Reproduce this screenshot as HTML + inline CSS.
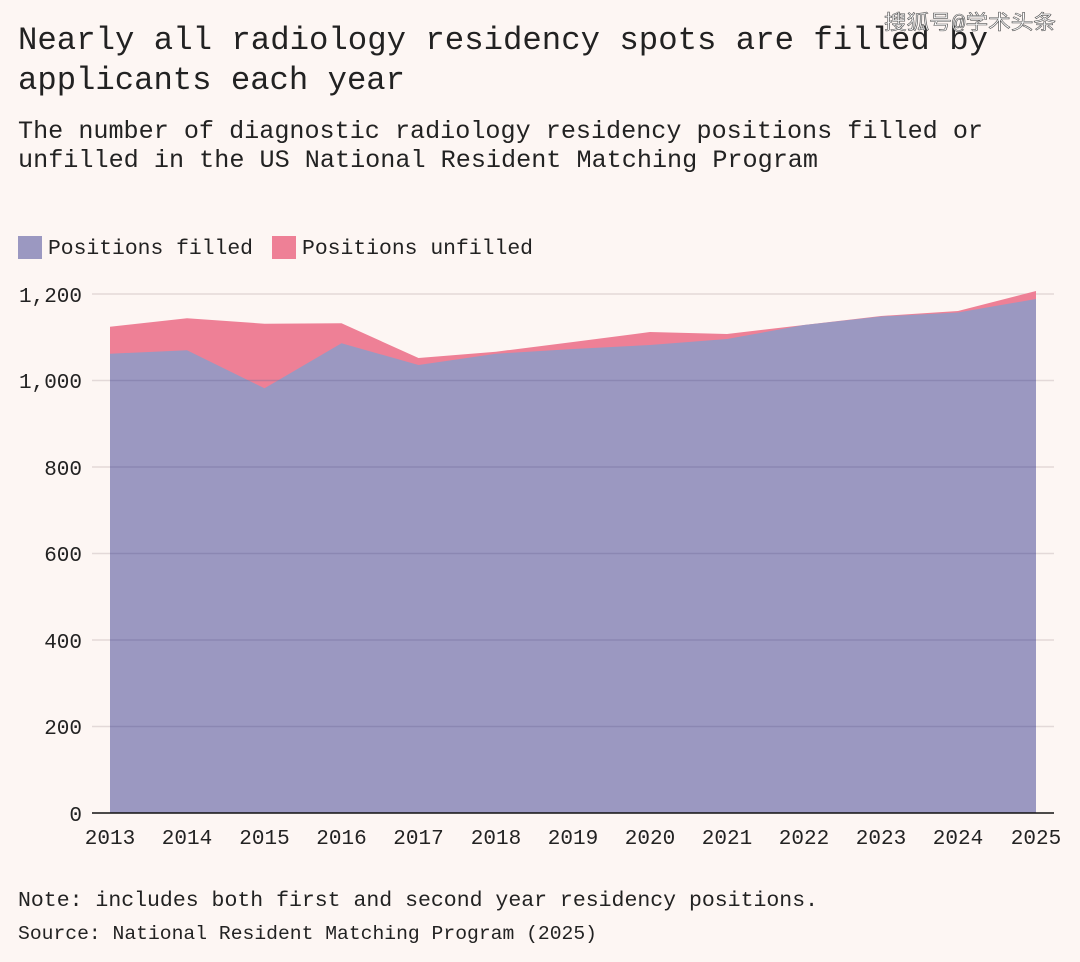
<!DOCTYPE html>
<html><head><meta charset="utf-8"><style>
body{margin:0;background:#fdf6f3;}
svg{display:block}
text{font-family:"Liberation Mono","Noto Sans CJK SC",monospace;fill:#222}
</style></head><body>
<svg width="1080" height="962" viewBox="0 0 1080 962">
<rect width="1080" height="962" fill="#fdf6f3"/>
<text x="18" y="49" font-size="32" textLength="970" lengthAdjust="spacingAndGlyphs">Nearly all radiology residency spots are filled by</text>
<text x="18" y="89" font-size="32" textLength="387" lengthAdjust="spacingAndGlyphs">applicants each year</text>
<text x="18" y="138" font-size="25" textLength="965" lengthAdjust="spacingAndGlyphs">The number of diagnostic radiology residency positions filled or</text>
<text x="18" y="167" font-size="25" textLength="800" lengthAdjust="spacingAndGlyphs">unfilled in the US National Resident Matching Program</text>
<text x="884" y="29" font-size="20" fill="#fff" style="fill:#fff;stroke:#555;stroke-width:0.6" textLength="172" lengthAdjust="spacingAndGlyphs">搜狐号@学术头条</text>
<rect x="18" y="236" width="24" height="23" fill="#9b98c1"/>
<text x="48" y="254" font-size="21" textLength="205" lengthAdjust="spacingAndGlyphs">Positions filled</text>
<rect x="272" y="236" width="24" height="23" fill="#ee8096"/>
<text x="302" y="254" font-size="21" textLength="231" lengthAdjust="spacingAndGlyphs">Positions unfilled</text>
<g stroke="#e3d9d8" stroke-width="1.5">
<line x1="92" x2="1054" y1="294" y2="294"/><line x1="92" x2="1054" y1="380.5" y2="380.5"/>
<line x1="92" x2="1054" y1="467" y2="467"/><line x1="92" x2="1054" y1="553.5" y2="553.5"/>
<line x1="92" x2="1054" y1="640" y2="640"/><line x1="92" x2="1054" y1="726.5" y2="726.5"/>
</g>
<polygon fill="#ee8096" points="110,813 110,326.7 187,318.3 264.5,323.7 341.5,323.3 418.5,358 496,351.7 573,342 650,332 727,334 804,325 881,316 958,311 1036,291 1036,813"/>
<polygon fill="#9b98c1" points="110,813 110,353.7 187,350.3 264.5,388.3 341.5,343.3 418.5,365 496,353.7 573,349 650,345 727,339 804,325 881,316.5 958,312.5 1036,299 1036,813"/>
<g stroke="#6e6a99" stroke-width="1.5" opacity="0.35">
<line x1="110" x2="1036" y1="380.5" y2="380.5"/><line x1="110" x2="1036" y1="467" y2="467"/>
<line x1="110" x2="1036" y1="553.5" y2="553.5"/><line x1="110" x2="1036" y1="640" y2="640"/>
<line x1="110" x2="1036" y1="726.5" y2="726.5"/>
</g>
<line x1="92" x2="1054" y1="813" y2="813" stroke="#111" stroke-width="1.5"/>
<g font-size="21">
<text x="82" y="302" text-anchor="end">1,200</text>
<text x="82" y="388" text-anchor="end">1,000</text>
<text x="82" y="475" text-anchor="end">800</text>
<text x="82" y="561" text-anchor="end">600</text>
<text x="82" y="648" text-anchor="end">400</text>
<text x="82" y="734" text-anchor="end">200</text>
<text x="82" y="821" text-anchor="end">0</text>
</g>
<g font-size="21" text-anchor="middle">
<text x="110" y="844">2013</text><text x="187" y="844">2014</text><text x="264.5" y="844">2015</text>
<text x="341.5" y="844">2016</text><text x="418.5" y="844">2017</text><text x="496" y="844">2018</text>
<text x="573" y="844">2019</text><text x="650" y="844">2020</text><text x="727" y="844">2021</text>
<text x="804" y="844">2022</text><text x="881" y="844">2023</text><text x="958" y="844">2024</text>
<text x="1036" y="844">2025</text>
</g>
<text x="18" y="906" font-size="21" textLength="800" lengthAdjust="spacingAndGlyphs">Note: includes both first and second year residency positions.</text>
<text x="18" y="939" font-size="19" textLength="579" lengthAdjust="spacingAndGlyphs">Source: National Resident Matching Program (2025)</text>
</svg>
</body></html>
